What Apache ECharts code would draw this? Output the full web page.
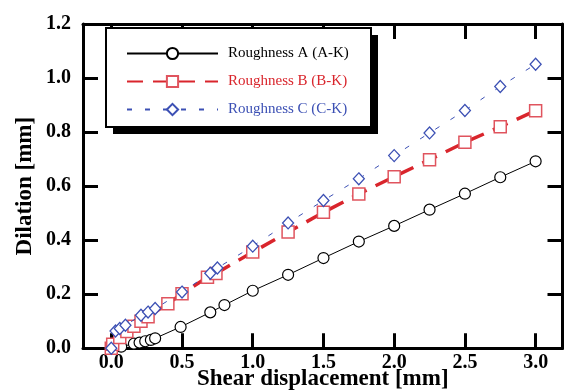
<!DOCTYPE html>
<html>
<head>
<meta charset="utf-8">
<script src="https://cdn.jsdelivr.net/npm/echarts@6/dist/echarts.min.js"></script>
<style>html,body{margin:0;padding:0;background:#fff}#c{width:564px;height:390px}</style>
</head>
<body>
<div id="c"></div>
<script>
var seriesNames = ['Roughness A (A-K)', 'Roughness B (B-K)', 'Roughness C (C-K)'];
var dataA = [[0,0],[0.07,0.006],[0.16,0.017],[0.2,0.021],[0.24,0.026],[0.28,0.031],[0.31,0.037],[0.49,0.079],[0.7,0.133],[0.8,0.16],[1.0,0.213],[1.25,0.272],[1.5,0.334],[1.75,0.395],[2.0,0.453],[2.25,0.513],[2.5,0.572],[2.75,0.633],[3.0,0.692]];
var dataB = [[0,0.0],[0.01,0.015],[0.06,0.04],[0.11,0.062],[0.16,0.082],[0.21,0.1],[0.26,0.117],[0.4,0.165],[0.5,0.202],[0.68,0.263],[0.74,0.277],[1.0,0.356],[1.25,0.43],[1.5,0.503],[1.75,0.571],[2.0,0.635],[2.25,0.698],[2.5,0.762],[2.75,0.82],[3.0,0.879]];
var dataC = [[0,0.0],[0.03,0.064],[0.06,0.073],[0.1,0.085],[0.21,0.122],[0.26,0.134],[0.31,0.147],[0.5,0.208],[0.7,0.278],[0.75,0.297],[1.0,0.378],[1.25,0.464],[1.5,0.547],[1.75,0.627],[2.0,0.713],[2.25,0.797],[2.5,0.88],[2.75,0.969],[3.0,1.051]];
var xTicks = [0, 0.5, 1.0, 1.5, 2.0, 2.5, 3.0];
var yTicks = [0, 0.2, 0.4, 0.6, 0.8, 1.0, 1.2];

var font = 'Liberation Serif';
var red = '#d9252c', redMark = '#e0545e', blue = '#3c50b4';

function xAx(pos, show) {
  return {
    type: 'value', position: pos, min: -0.2, max: 3.19,
    name: show ? 'Shear displacement [mm]' : '', nameLocation: 'middle', nameGap: 19, nameMoveOverlap: false,
    nameTextStyle: {fontFamily: font, fontWeight: 'bold', fontSize: 23, color: '#000'},
    axisLine: {show: true, onZero: false, lineStyle: {color: '#000', width: 3}},
    axisTick: {show: true, inside: true, length: 15, lineStyle: {color: '#000', width: 3}, customValues: xTicks},
    axisLabel: {show: show, margin: 5, customValues: xTicks, fontFamily: font, fontWeight: 'bold', fontSize: 20, color: '#000',
      formatter: function (v) { return v.toFixed(1); }},
    splitLine: {show: false}
  };
}
function yAx(pos, show) {
  return {
    type: 'value', position: pos, min: 0, max: 1.2, interval: 0.2,
    name: show ? 'Dilation [mm]' : '', nameLocation: 'middle', nameGap: 46, nameMoveOverlap: false,
    nameTextStyle: {fontFamily: font, fontWeight: 'bold', fontSize: 23, color: '#000'},
    axisLine: {show: true, onZero: false, lineStyle: {color: '#000', width: 3}},
    axisTick: {show: true, inside: true, length: 15, lineStyle: {color: '#000', width: 3}, customValues: yTicks},
    axisLabel: {show: show, margin: 12, customValues: yTicks, fontFamily: font, fontWeight: 'bold', fontSize: 20, color: '#000',
      formatter: function (v) { return v.toFixed(1); }},
    splitLine: {show: false}
  };
}

var chart = echarts.init(document.getElementById('c'), null, {renderer: 'canvas'});
chart.setOption({
  animation: false,
  backgroundColor: '#fff',
  grid: {left: 83, top: 24, right: 1.5, bottom: 41.7, containLabel: false, outerBoundsMode: 'none'},
  xAxis: [xAx('bottom', true), xAx('top', false)],
  yAxis: [yAx('left', true), yAx('right', false)],
  graphic: [
    {type: 'rect', z: 1, silent: true, shape: {x: 113, y: 35, width: 265, height: 99}, style: {fill: '#000'}},
    {type: 'rect', z: 2, silent: true, shape: {x: 106, y: 28, width: 265, height: 99}, style: {fill: '#fff', stroke: '#000', lineWidth: 2}}
  ],
  legend: {
    orient: 'vertical', left: 106, top: 30, z: 10,
    padding: [16, 17, 13, 20], itemGap: 13, itemWidth: 91, itemHeight: 14,
    textStyle: {fontFamily: font, fontSize: 15, padding: [0, 0, 0, 5]},
    data: [
      {name: seriesNames[0], textStyle: {color: '#000'}},
      {name: seriesNames[1], textStyle: {color: red}},
      {name: seriesNames[2], textStyle: {color: blue}}
    ]
  },
  series: [
    {name: seriesNames[0], type: 'line', data: dataA, symbol: 'circle', symbolSize: 11, showAllSymbol: true,
      lineStyle: {color: '#000', width: 1}, itemStyle: {color: '#fff', borderColor: '#000', borderWidth: 1.2}, z: 3},
    {name: seriesNames[1], type: 'line', data: dataB, symbol: 'rect', symbolSize: 12, showAllSymbol: true,
      lineStyle: {color: red, width: 3.5, type: [16, 10]}, itemStyle: {color: '#fff', borderColor: redMark, borderWidth: 1.5}, z: 4},
    {name: seriesNames[2], type: 'line', data: dataC, symbol: 'diamond', symbolSize: [11, 12], showAllSymbol: true,
      lineStyle: {color: blue, width: 1, type: [5, 13]}, itemStyle: {color: '#fff', borderColor: blue, borderWidth: 1.3}, z: 5}
  ]
});
</script>
</body>
</html>
